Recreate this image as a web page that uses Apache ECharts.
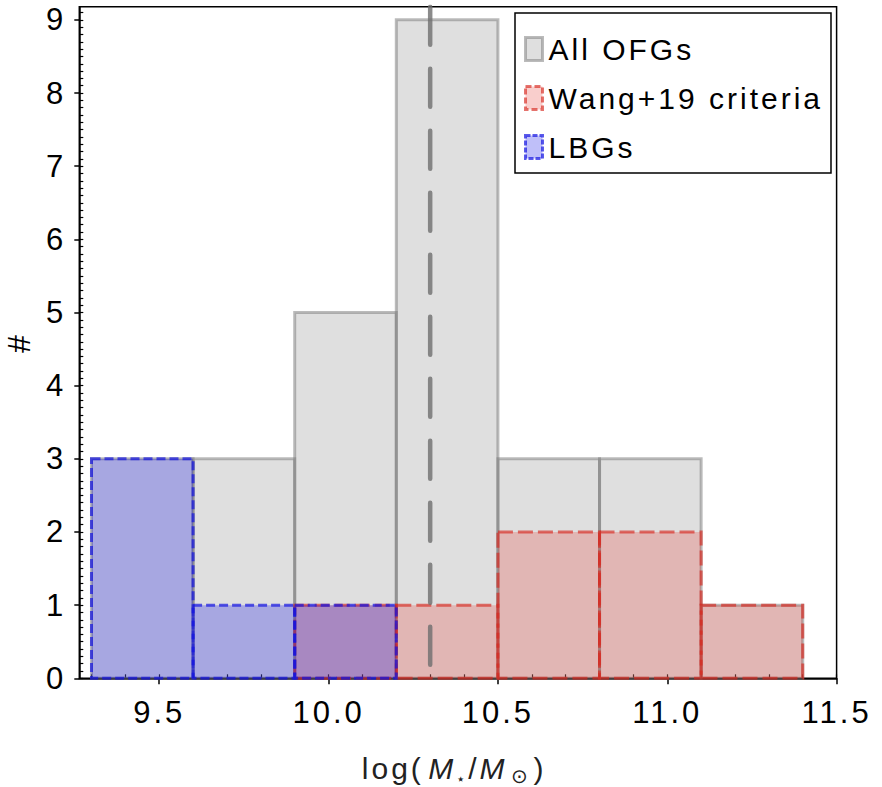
<!DOCTYPE html>
<html>
<head>
<meta charset="utf-8">
<script src="https://cdn.jsdelivr.net/npm/echarts@6/dist/echarts.min.js"></script>
<style>
  html, body { margin: 0; padding: 0; background: #fff; }
  #massHist { width: 882px; height: 787px; }
  /* the original figure's text is set with loose tracking */
  #massHist text { letter-spacing: 3px; }
</style>
</head>
<body>
<div id="massHist"></div>
<script>
// histogram bins (log stellar mass) and counts per sample
var binEdges = [9.3, 9.6, 9.9, 10.2, 10.5, 10.8, 11.1, 11.4];
var allOFGs = [3, 3, 5, 9, 3, 3, 1];
var wang19 = [0, 0, 1, 1, 2, 2, 1];
var lbgs = [3, 1, 1, 0, 0, 0, 0];
var medianMass = 10.3;

var xTicks = [9.5, 10.0, 10.5, 11.0, 11.5];
var yTicks = [0, 1, 2, 3, 4, 5, 6, 7, 8, 9];
var xRange = [9.264, 11.5];
var yRange = [0, 9.18];

var FONT = '"Liberation Sans", Arial, sans-serif';
var SP = 3; // tracking in px, rich text fragments need it as right padding

// minor tick positions every 0.1
function minorTicks(lo, hi) {
    var out = [];
    for (var k = Math.ceil(lo * 10); k <= Math.floor(hi * 10); k++) {
        out.push(k / 10);
    }
    return out;
}

function toBins(counts) {
    var rows = [];
    counts.forEach(function (c, i) {
        if (c > 0) rows.push([binEdges[i], binEdges[i + 1], c]);
    });
    return rows;
}

function histSeries(name, counts, fill, stroke, dash, width) {
    return {
        name: name,
        type: 'custom',
        xAxisIndex: 0,
        yAxisIndex: 0,
        encode: { x: [0, 1], y: 2 },
        data: toBins(counts),
        itemStyle: { color: fill, borderColor: stroke },
        renderItem: function (params, api) {
            var top = api.coord([api.value(0), api.value(2)]);
            var bot = api.coord([api.value(1), 0]);
            return {
                type: 'rect',
                shape: { x: top[0], y: top[1], width: bot[0] - top[0], height: bot[1] - top[1] },
                style: { fill: fill, stroke: stroke, lineWidth: width, lineDash: dash }
            };
        }
    };
}

var chart = echarts.init(document.getElementById('massHist'), null, { renderer: 'svg' });

var gray = { fill: 'rgba(150,150,150,0.3)', edge: 'rgba(120,120,120,0.5)' };
var red = { fill: 'rgba(230,60,50,0.25)', edge: 'rgba(215,40,30,0.65)' };
var blue = { fill: 'rgba(0,0,230,0.25)', edge: 'rgba(20,20,225,0.7)' };

var option = {
    animation: false,
    grid: {
        left: 79.3, right: 45.4, top: 6.7, bottom: 108.7,
        outerBoundsMode: 'none',
        containLabel: false,
        show: true, borderColor: '#000', borderWidth: 1.5, backgroundColor: 'transparent'
    },
    legend: {
        orient: 'vertical',
        left: 515,
        top: 13,
        padding: [21, 56, 11, 9],
        itemGap: 19,
        itemWidth: 17,
        itemHeight: 23,
        borderColor: '#000',
        borderWidth: 1.5,
        backgroundColor: '#fff',
        selectedMode: false,
        textStyle: { fontFamily: FONT, fontSize: 30, lineHeight: 30, color: '#000', padding: [0, 0, 0, 1] },
        data: [
            { name: 'All OFGs', icon: 'rect', itemStyle: { color: gray.fill, borderColor: gray.edge, borderWidth: 3 } },
            { name: 'Wang+19 criteria', icon: 'rect', itemStyle: { color: red.fill, borderColor: red.edge, borderWidth: 3, borderType: [6, 3] } },
            { name: 'LBGs', icon: 'rect', itemStyle: { color: blue.fill, borderColor: blue.edge, borderWidth: 3, borderType: [5, 2] } }
        ]
    },
    xAxis: [{
        type: 'value',
        min: xRange[0],
        max: xRange[1],
        name: '{a|log(}{i|M}{s|\u22c6}{b|/}{i|M}{o|\u2299}{b|)}',
        nameLocation: 'middle',
        nameGap: 73,
        nameTextStyle: {
            rich: {
                a: { fontFamily: FONT, fontSize: 30, color: '#222', padding: [0, 4 * SP, 0, 0] },
                b: { fontFamily: FONT, fontSize: 30, color: '#222', padding: [0, SP, 0, 0] },
                i: { fontFamily: FONT, fontSize: 30, fontStyle: 'italic', color: '#222', padding: [0, SP, 0, 0] },
                s: { fontFamily: FONT, fontSize: 15, color: '#222', verticalAlign: 'bottom', padding: [15, SP, 0, 0] },
                o: { fontFamily: FONT, fontSize: 20, color: '#222', verticalAlign: 'bottom', padding: [15, SP + 3, 0, 3] }
            }
        },
        axisLine: { lineStyle: { color: '#000', width: 1.5 } },
        axisTick: { customValues: xTicks, length: 6, lineStyle: { color: '#000', width: 1.5 } },
        axisLabel: {
            customValues: xTicks, margin: 19,
            fontFamily: FONT, fontSize: 31, color: '#000',
            formatter: function (v) { return v.toFixed(1); }
        },
        splitLine: { show: false }
    }, {
        type: 'value',
        min: xRange[0],
        max: xRange[1],
        position: 'bottom',
        axisLine: { show: false },
        axisTick: { inside: true, customValues: minorTicks(xRange[0], xRange[1]), length: 4, lineStyle: { color: '#000', width: 1.2 } },
        axisLabel: { show: false },
        splitLine: { show: false }
    }],
    yAxis: [{
        type: 'value',
        min: yRange[0],
        max: yRange[1],
        name: '#',
        nameLocation: 'middle',
        nameGap: 44,
        nameRotate: 90,
        nameTextStyle: { fontFamily: FONT, fontSize: 32, color: '#000' },
        axisLine: { lineStyle: { color: '#000', width: 1.5 } },
        axisTick: { customValues: yTicks, length: 5, lineStyle: { color: '#000', width: 1.5 } },
        axisLabel: { customValues: yTicks, margin: 13, fontFamily: FONT, fontSize: 31, color: '#000' },
        splitLine: { show: false }
    }, {
        type: 'value',
        min: yRange[0],
        max: yRange[1],
        position: 'left',
        axisLine: { show: false },
        axisTick: { inside: true, customValues: minorTicks(yRange[0], 9.1), length: 4, lineStyle: { color: '#000', width: 1.2 } },
        axisLabel: { show: false },
        splitLine: { show: false }
    }],
    series: [
        histSeries('All OFGs', allOFGs, gray.fill, gray.edge, null, 3),
        histSeries('Wang+19 criteria', wang19, red.fill, red.edge, [15, 5], 3),
        histSeries('LBGs', lbgs, blue.fill, blue.edge, [9, 4], 3),
        {
            name: 'median',
            type: 'line',
            xAxisIndex: 0,
            yAxisIndex: 0,
            symbol: 'none',
            data: [[medianMass, yRange[1]], [medianMass, 0]],
            lineStyle: { color: 'rgba(110,110,110,0.8)', width: 4.5, type: [38, 24], cap: 'round' },
            z: 5
        }
    ]
};

chart.setOption(option);
</script>
</body>
</html>
